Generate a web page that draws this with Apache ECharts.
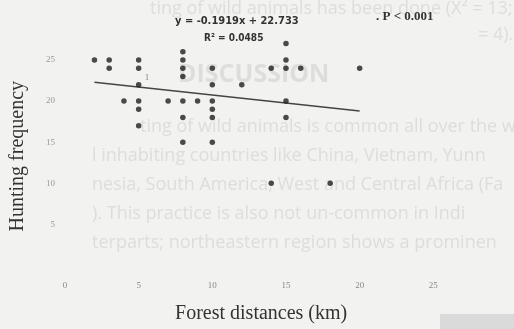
<!DOCTYPE html>
<html>
<head>
<meta charset="utf-8">
<script src="https://cdn.jsdelivr.net/npm/echarts@6/dist/echarts.min.js"></script>
<style>
  html, body { margin: 0; padding: 0; background: #f2f2f0; }
  #main { width: 514px; height: 329px; }
</style>
</head>
<body>
<div id="main"></div>
<script>
// forest distance (km) vs hunting frequency, one entry per dot
var distance = [2, 3, 3, 4, 5, 5, 5, 5, 5, 5, 7, 8, 8, 8, 8, 8, 8, 8, 9,
                10, 10, 10, 10, 10, 10, 12, 14, 14, 15, 15, 15, 15, 15, 16, 18, 20];
var frequency = [25, 25, 24, 20, 25, 24, 22, 20, 19, 17, 20, 26, 25, 24, 23, 20, 18, 15, 20,
                 24, 22, 20, 19, 18, 15, 22, 24, 10, 27, 25, 24, 20, 18, 24, 10, 24];
// regression line ends
var trendX = [2, 20];
var trendY = [22.3, 18.8];
var xTicks = [0, 5, 10, 15, 20, 25];
var yTicks = [5, 10, 15, 20, 25];

// page text showing through the scan
var ghostLines = [
  ['ting of wild animals has been done (X\u00b2 = 13; P < (', 150, 14],
  ['= 4).', 478, 40],
  ['ting of wild animals is common all over the wo', 140, 132],
  ['l inhabiting countries like China, Vietnam, Yunn', 92, 161],
  ['nesia, South America, West and Central Africa (Fa', 92, 190],
  ['). This practice is also not un-common in Indi', 92, 219],
  ['terparts; northeastern region shows a prominen', 92, 248]
];

var myChart = echarts.init(document.getElementById('main'));

var points = distance.map(function (d, i) { return [d, frequency[i]]; });
var trend = trendX.map(function (d, i) { return [d, trendY[i]]; });

var graphics = ghostLines.map(function (l) {
  return {
    type: 'text', left: l[1], top: l[2] - 14, z: 0,
    style: { text: l[0], font: '18px "Open Sans"', fill: '#dddddb' }
  };
});
graphics.push({
  type: 'text', left: 178, top: 62, z: 0,
  style: { text: 'DISCUSSION', font: 'bold 25px "Open Sans"', fill: '#dddddb' }
});
graphics.push({
  type: 'rect', left: 440, top: 314, z: 0,
  shape: { width: 74, height: 15 },
  style: { fill: '#dadada' }
});
graphics.push({
  type: 'text', left: 175, top: 16, z: 10,
  style: { text: 'y = -0.1919x + 22.733', font: 'bold 11px "DejaVu Sans Condensed"', fill: '#333' }
});
graphics.push({
  type: 'text', left: 204, top: 33, z: 10,
  style: { text: 'R\u00b2 = 0.0485', font: 'bold 10px "DejaVu Sans Condensed"', fill: '#333' }
});
graphics.push({
  type: 'text', left: 376, top: 10, z: 10,
  style: { text: '. P < 0.001', font: 'bold 13px "Liberation Serif"', fill: '#333' }
});
graphics.push({
  type: 'text', left: 145, top: 74, z: 10,
  style: { text: '1', font: '8px "Liberation Serif"', fill: '#777' }
});

var option = {
  backgroundColor: '#f2f2f0',
  animation: false,
  grid: { left: 64.5, right: 80.7, top: 18.9, bottom: 63.5 },
  graphic: graphics,
  xAxis: {
    type: 'value', min: 0, max: 25, interval: 5,
    name: 'Forest distances (km)', nameLocation: 'middle', nameGap: 38,
    nameTextStyle: { fontFamily: 'Liberation Serif', fontSize: 20, color: '#333', padding: [0, 0, 0, 24] },
    axisLine: { show: false }, axisTick: { show: false }, splitLine: { show: false },
    axisLabel: {
      margin: 16, fontFamily: 'Liberation Serif', fontSize: 9, color: '#888',
      formatter: function (v) { return xTicks.indexOf(v) >= 0 ? String(v) : ''; }
    }
  },
  yAxis: {
    type: 'value', min: 0, max: 30, interval: 5,
    name: 'Hunting frequency', nameLocation: 'middle', nameGap: 37,
    nameTextStyle: { fontFamily: 'Liberation Serif', fontSize: 20, color: '#333', padding: [0, 28, 0, 0] },
    axisLine: { show: false }, axisTick: { show: false }, splitLine: { show: false },
    axisLabel: {
      margin: 10, fontFamily: 'Liberation Serif', fontSize: 9, color: '#999',
      formatter: function (v) { return yTicks.indexOf(v) >= 0 ? String(v) : ''; }
    }
  },
  series: [
    {
      type: 'line', data: trend, symbol: 'none', z: 3,
      lineStyle: { color: '#444', width: 1.5 }
    },
    {
      type: 'scatter', data: points, symbolSize: 5.5, z: 4,
      itemStyle: { color: '#1e1e1e' }
    }
  ]
};
myChart.setOption(option);
</script>
</body>
</html>
